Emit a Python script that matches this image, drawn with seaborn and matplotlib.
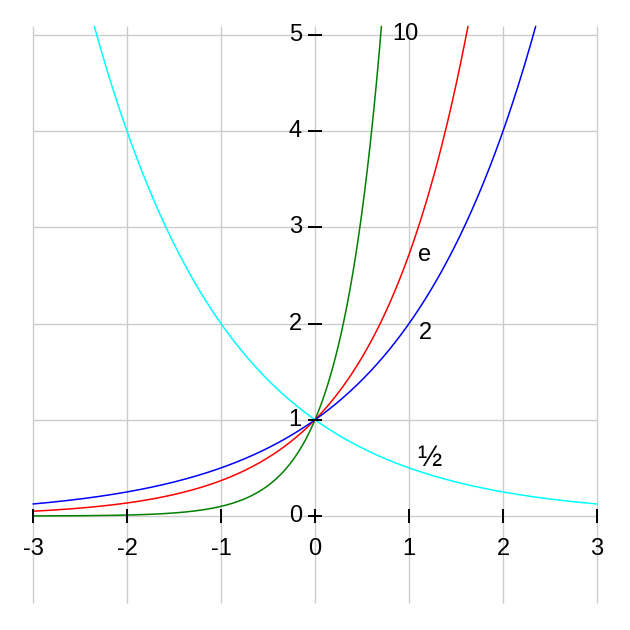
import numpy as np
import pandas as pd
import matplotlib
matplotlib.use("Agg")
import matplotlib.pyplot as plt
import seaborn as sns

# data
bases = [10.0, np.e, 2.0, 0.5]
base_labels = ["10", "e", "2", "½"]
colors = ["#008000", "#ff0000", "#0000ff", "#00ffff"]
label_x = [0.82, 1.10, 1.10, 1.09]
label_y = [5.01, 2.71, 1.90, 0.60]
label_sizes = [17, 17, 17, 21]
x_ticks = [-3, -2, -1, 0, 1, 2, 3]
y_ticks = [0, 1, 2, 3, 4, 5]
x_tick_labels = ["-3", "-2", "-1", "0", "1", "2", "3"]
y_tick_labels = ["0", "1", "2", "3", "4", "5"]

sns.set_style("white")
plt.rcParams["font.family"] = ["Liberation Sans", "DejaVu Sans"]
plt.rcParams["text.color"] = "black"

fig = plt.figure(figsize=(6.3, 6.3), dpi=100)
ax = fig.add_axes([0, 0, 1, 1])
ax.set_axis_off()

xmin, xmax = -3.0, 3.0
ytop = 5.09
ybot = -0.9

# grid
ax.vlines(x_ticks, ybot, ytop, colors="#cccccc", linewidth=1, zorder=1)
ax.hlines(y_ticks, xmin, xmax, colors="#cccccc", linewidth=1, zorder=1)

# curves
rows = []
for b, lab in zip(bases, base_labels):
    lim = np.log(ytop) / np.log(b)
    if b > 1:
        lo, hi = xmin, min(xmax, lim)
    else:
        lo, hi = max(xmin, lim), xmax
    xs = np.linspace(lo, hi, 600)
    for xv in xs:
        rows.append({"x": xv, "y": b ** xv, "base": lab})
df = pd.DataFrame(rows)
sns.lineplot(data=df, x="x", y="y", hue="base", hue_order=base_labels,
             palette=colors, linewidth=1.1, legend=False, ax=ax,
             sort=False, estimator=None, zorder=3)

# tick marks
ax.plot(x_ticks, [0] * len(x_ticks), linestyle="none", marker="|",
        markersize=10, markeredgewidth=1.4, color="black", zorder=4)
ax.plot([0] * len(y_ticks), y_ticks, linestyle="none", marker="_",
        markersize=10, markeredgewidth=1.4, color="black", zorder=4)

fs = 17
for xv, t in zip(x_ticks, x_tick_labels):
    ax.text(xv, -0.345, t, ha="center", va="center", fontsize=fs, zorder=5)
for yv, t in zip(y_ticks, y_tick_labels):
    ax.text(-0.14, yv, t, ha="right", va="center", fontsize=fs, zorder=5)
for xv, yv, t, s in zip(label_x, label_y, base_labels, label_sizes):
    ax.text(xv, yv, t, ha="left", va="center", fontsize=s, zorder=5)

ax.set_xlim(-3 - 33 / 94, 3 + 33 / 94)
ax.set_ylim(-114 / 96.2, 5 + 35 / 96.2)

fig.savefig("out.png", dpi=100, facecolor="white")
